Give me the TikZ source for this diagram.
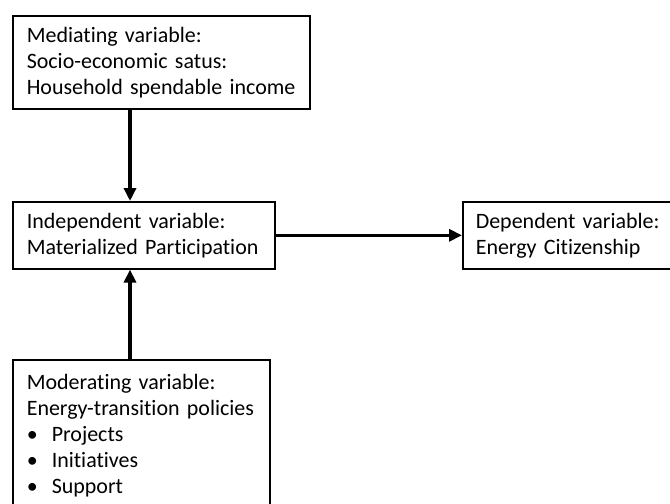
\documentclass[tikz,border=0pt]{standalone}
\usepackage{fontspec}
\setmainfont{Carlito}[Ligatures=NoCommon, WordSpace=0.8]
\usetikzlibrary{arrows.meta,positioning}

\begin{document}
\begin{tikzpicture}[
    box/.style={rectangle, draw, line width=0.9pt, align=left, anchor=north west, inner xsep=0.28cm, inner ysep=0pt, font=\fontsize{12.5}{14.8}\selectfont},
    arrow/.style={-{Triangle[length=2.6mm,width=2.4mm]}, line width=1.9pt}
]
\useasboundingbox (0,0) rectangle (13.4,-10.06);

% Mediating variable
\node[box, text width=5.38cm, minimum height=1.86cm] (med) at (0.24,-0.30) {Mediating variable:\\Socio-economic satus:\\Household spendable income};

% Independent variable
\node[box, text width=4.68cm, minimum height=1.34cm] (ind) at (0.24,-4.02) {Independent variable:\\Materialized Participation};

% Dependent variable
\node[box, text width=3.9cm, inner xsep=0.26cm, minimum height=1.34cm] (dep) at (9.24,-4.02) {Dependent variable:\\Energy Citizenship};

% Moderating variable
\node[box, text width=4.58cm, minimum height=3.02cm] (mod) at (0.24,-7.18) {Moderating variable:\\Energy-transition policies\\
    \makebox[0.5cm][l]{\textbullet}Projects\\
    \makebox[0.5cm][l]{\textbullet}Initiatives\\
    \makebox[0.5cm][l]{\textbullet}Support};

% Arrows
\coordinate (ax) at (2.6,0);
\draw[arrow] (med.south -| ax) -- (ind.north -| ax);
\draw[arrow] (mod.north -| ax) -- (ind.south -| ax);
\draw[arrow] (ind.east) -- (ind.east -| dep.west);

\end{tikzpicture}
\end{document}
